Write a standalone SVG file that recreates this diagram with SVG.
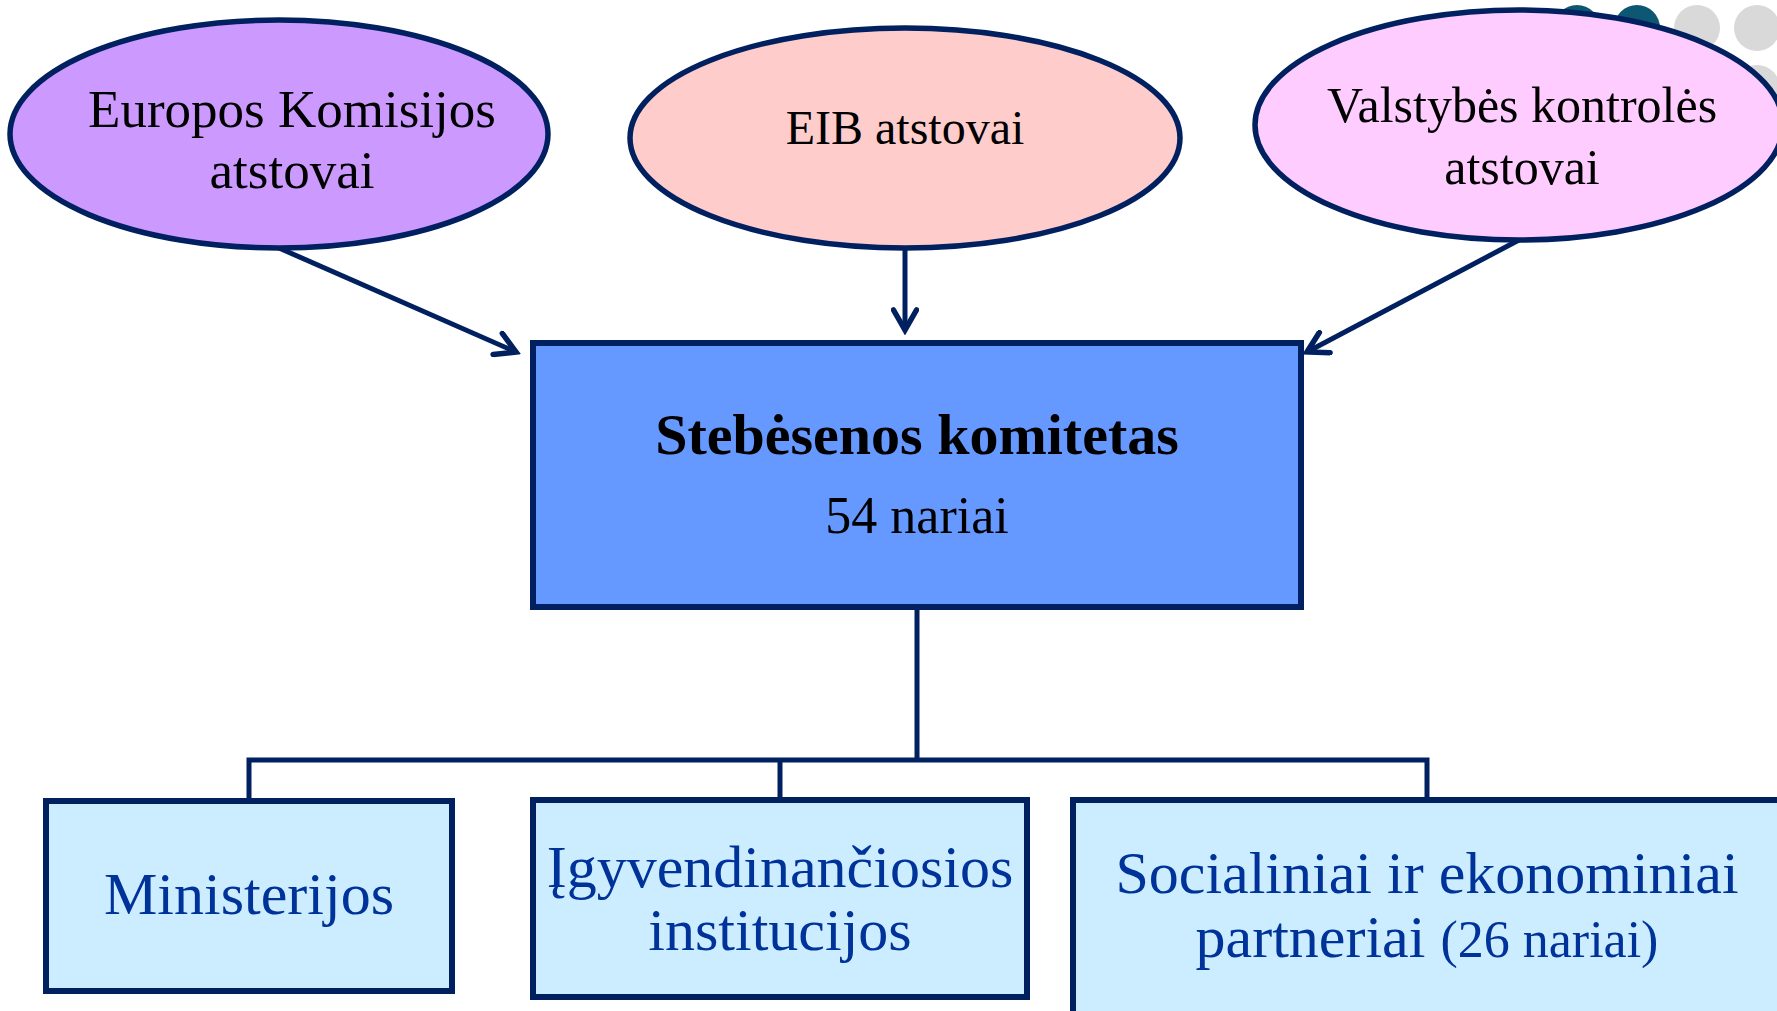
<svg xmlns="http://www.w3.org/2000/svg" width="1777" height="1011" viewBox="0 0 1777 1011">
  <style>
    .ell { stroke: #002060; stroke-width: 5.5; }
    .box { stroke: #002060; stroke-width: 6; }
    .sub { fill: #CCECFF; stroke: #002060; stroke-width: 6; }
    .t { font-family: "Liberation Serif", "Times New Roman", serif; text-anchor: middle; fill: #000000; }
    .tb { font-family: "Liberation Serif", "Times New Roman", serif; text-anchor: middle; fill: #003399; font-size: 60px; }
    .conn { fill: none; stroke: #002060; stroke-width: 5; }
  </style>
  <defs>
    <marker id="arr" markerUnits="userSpaceOnUse" viewBox="0 0 28 28" markerWidth="28" markerHeight="28" refX="23" refY="14" orient="auto">
      <path d="M3,2.5 L23,14 L3,25.5" fill="none" stroke="#002060" stroke-width="5.5" stroke-linecap="round" stroke-linejoin="miter"/>
    </marker>
  </defs>
  <rect width="1777" height="1011" fill="#ffffff"/>

  <g id="decor">
    <circle cx="1577" cy="28" r="23" fill="#0d5773"/>
    <circle cx="1637" cy="28" r="23" fill="#0d5773"/>
    <circle cx="1697" cy="28" r="23" fill="#d9d9d9"/>
    <circle cx="1757" cy="28" r="23" fill="#d9d9d9"/>
    <circle cx="1757" cy="88" r="23" fill="#d9d9d9"/>
  </g>

  <g id="connectors">
    <line class="conn" x1="279" y1="248" x2="516" y2="352" marker-end="url(#arr)"/>
    <line class="conn" x1="905" y1="248" x2="905" y2="330" marker-end="url(#arr)"/>
    <line class="conn" x1="1519" y1="240" x2="1307" y2="352" marker-end="url(#arr)"/>
    <path class="conn" d="M917,607 V760"/>
    <path class="conn" d="M249,801 V760 H1427 V801"/>
    <path class="conn" d="M780,760 V800"/>
  </g>

  <g id="node-ek">
    <ellipse class="ell" cx="279" cy="134" rx="269" ry="114" fill="#CC99FF"/>
    <text class="t" x="292" y="127" font-size="53">Europos Komisijos</text>
    <text class="t" x="292" y="188" font-size="53">atstovai</text>
  </g>

  <g id="node-eib">
    <ellipse class="ell" cx="905" cy="138" rx="275" ry="110" fill="#FFCCCC"/>
    <text class="t" x="905" y="144" font-size="48">EIB atstovai</text>
  </g>

  <g id="node-vk">
    <ellipse class="ell" cx="1519" cy="125" rx="264" ry="115" fill="#FFCCFF"/>
    <text class="t" x="1522" y="122" font-size="50">Valstybės kontrolės</text>
    <text class="t" x="1522" y="184" font-size="50">atstovai</text>
  </g>

  <g id="node-komitetas">
    <rect class="box" x="533" y="343" width="768" height="264" fill="#6699FF"/>
    <text class="t" x="917" y="454" font-size="58" font-weight="bold">Stebėsenos komitetas</text>
    <text class="t" x="917" y="533" font-size="52">54 nariai</text>
  </g>

  <g id="node-ministerijos">
    <rect class="sub" x="46" y="801" width="406" height="190"/>
    <text class="tb" x="249" y="914">Ministerijos</text>
  </g>

  <g id="node-institucijos">
    <rect class="sub" x="533" y="800" width="494" height="197"/>
    <text class="tb" x="780" y="887">Įgyvendinančiosios</text>
    <text class="tb" x="780" y="950">institucijos</text>
  </g>

  <g id="node-partneriai">
    <rect class="sub" x="1073" y="800" width="712" height="215"/>
    <text class="tb" x="1427" y="893">Socialiniai ir ekonominiai</text>
    <text class="tb" x="1427" y="957">partneriai <tspan font-size="52">(26 nariai)</tspan></text>
  </g>
</svg>
